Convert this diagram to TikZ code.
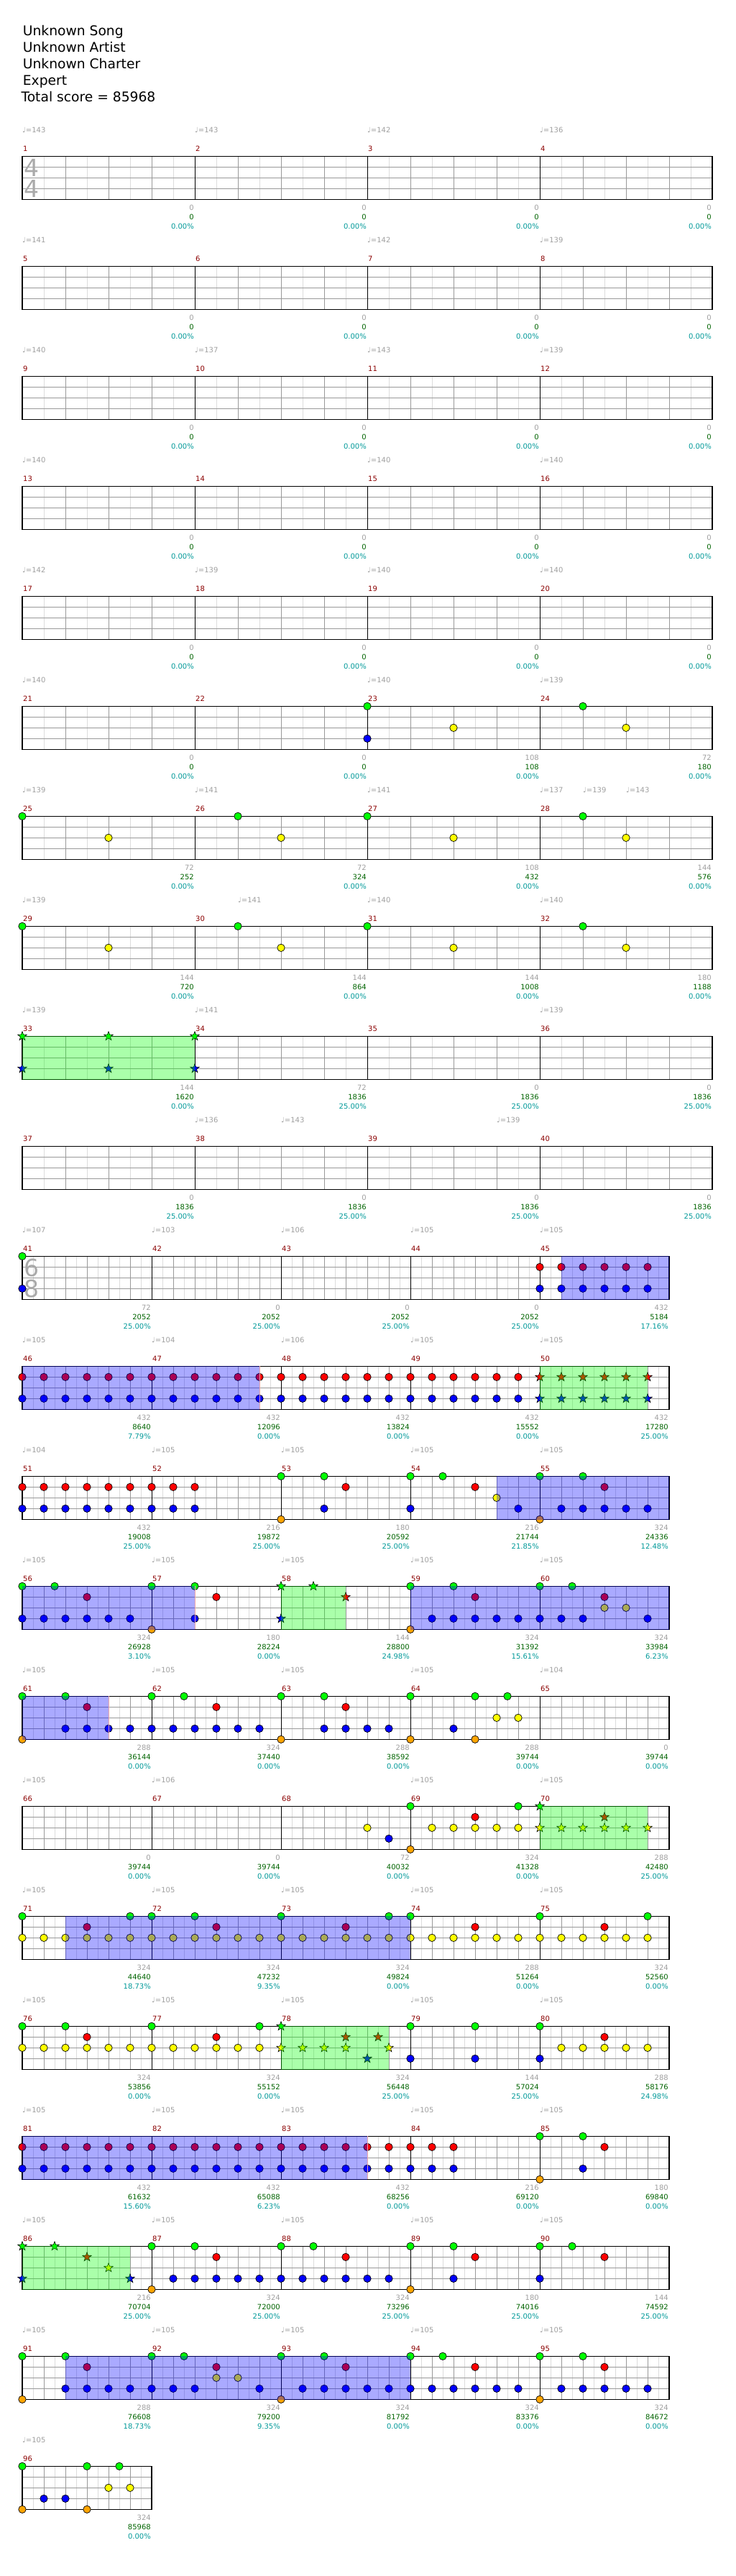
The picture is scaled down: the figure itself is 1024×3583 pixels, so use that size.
\documentclass[tikz,border=0pt]{standalone}
\usepackage{fontspec}
\setmainfont{DejaVu Sans}
\definecolor{ln0}{HTML}{00FF00}
\definecolor{ln1}{HTML}{FF0000}
\definecolor{ln2}{HTML}{FFFF00}
\definecolor{ln3}{HTML}{0000FF}
\definecolor{ln4}{HTML}{FFA500}
\definecolor{lightg}{HTML}{DCDCDC}
\definecolor{midg}{HTML}{999999}
\definecolor{tempog}{HTML}{A0A0A0}
\definecolor{mnumc}{HTML}{8B0000}
\definecolor{cumg}{HTML}{006400}
\definecolor{pctc}{HTML}{009999}
\definecolor{tsg}{HTML}{AAAAAA}
\definecolor{edgec}{HTML}{F0A8A8}
\newcounter{nd}
\tikzset{
  lightl/.style={draw=lightg, line width=1},
  darkl/.style={draw=midg, line width=1},
  barl/.style={draw=black, line width=1},
  borderl/.style={draw=black, line width=1.3},
  note/.style={draw=black, line width=0.7},
  small/.style={font=\fontsize{10}{12}\selectfont, inner sep=0},
  tmp/.style={small, text=tempog, anchor=base west},
  mnum/.style={small, text=mnumc, anchor=base west},
  sca/.style={small, text=tempog, anchor=base east},
  scb/.style={small, text=cumg, anchor=base east},
  scc/.style={small, text=pctc, anchor=base east},
  tsig/.style={font=\fontsize{33}{33}\selectfont, text=tsg, inner sep=0},
  title/.style={font=\fontsize{18.7}{22}\selectfont, anchor=base west, inner sep=0},
}
% 4/4 grid row
\newcommand\GridA[1]{%
  \foreach \k in {0,1,2,3}{%
    \foreach \j in {1,3,5,7}{\draw[lightl] ({31+240*\k+30*\j},{217.3+153*#1}) -- ++(0,60);}
    \foreach \j in {1,2,3}{\draw[darkl] ({31+240*\k+60*\j},{217.3+153*#1}) -- ++(0,60);}
  }
  \foreach \j in {1,2,3}{\draw[darkl] (31,{217.3+153*#1+15*\j}) -- (991,{217.3+153*#1+15*\j});}
  \foreach \k in {1,2,3}{\draw[barl] ({31+240*\k},{217.3+153*#1}) -- ++(0,60);}
  \draw[borderl] (31,{217.3+153*#1}) rectangle (991,{217.3+153*#1+60});
}
% 6/8 grid row: #1 row, #2 number of measures
\newcommand\GridB[2]{%
  \pgfmathtruncatemacro\lastk{#2-1}
  \foreach \k in {0,...,\lastk}{%
    \foreach \j in {15,45,75,105,135,165}{\draw[lightl] ({31+180*\k+\j},{217.3+153*#1}) -- ++(0,60);}
    \foreach \j in {30,60,90,120,150}{\draw[darkl] ({31+180*\k+\j},{217.3+153*#1}) -- ++(0,60);}
  }
  \foreach \j in {1,2,3}{\draw[darkl] (31,{217.3+153*#1+15*\j}) -- ({31+180*#2},{217.3+153*#1+15*\j});}
  \foreach \k in {0,...,\lastk}{\draw[barl] ({31+180*\k},{217.3+153*#1}) -- ++(0,60);}
  \draw[borderl] (31,{217.3+153*#1}) rectangle ({31+180*#2},{217.3+153*#1+60});
}
% notes: row, x offset (px), lane
\newcommand\NtA[3]{\filldraw[note, fill=ln#3] ({31+#2},{217.3+153*#1+15*#3}) circle (5.2);}
\newcommand\NtB[3]{\NtA{#1}{30*#2}{#3}}
\newcommand\StA[3]{\filldraw[note, line width=0.6, fill=ln#3, shift={({31+#2},{217.3+153*#1+15*#3})}]
  (270:6.6) -- (306:2.7) -- (342:6.6) -- (18:2.7) -- (54:6.6) -- (90:2.7) -- (126:6.6) -- (162:2.7) -- (198:6.6) -- (234:2.7) -- cycle;}
\newcommand\StB[3]{\StA{#1}{30*#2}{#3}}
% overlays: row, x1 offset, x2 offset
\newcommand\OvB[3]{\fill[ln3, fill opacity=0.3333] ({31+#2},{217.3+153*#1-0.7}) rectangle ({31+#3},{217.3+153*#1+60.7});}
\newcommand\OvE[2]{\draw[edgec, line width=1] ({31+#2},{217.3+153*#1}) -- ++(0,60);}
\newcommand\OvG[3]{\fill[ln0, fill opacity=0.3333] ({31+#2},{217.3+153*#1-0.7}) rectangle ({31+#3},{217.3+153*#1+60.7});}
% texts
\newcommand\Tp[3]{\stepcounter{nd}\node[tmp] (n\arabic{nd}) at ({31+#2},{217.3+153*#1-32.5}) {♩=#3};}
\newcommand\Mn[3]{\stepcounter{nd}\node[mnum] (n\arabic{nd}) at ({32+#2},{217.3+153*#1-7}) {#3};}
\newcommand\Sc[5]{%
  \stepcounter{nd}\node[sca] (n\arabic{nd}) at ({30+#2},{217.3+153*#1+75}) {#3};
  \stepcounter{nd}\node[scb] (n\arabic{nd}) at ({30+#2},{217.3+153*#1+88}) {#4};
  \stepcounter{nd}\node[scc] (n\arabic{nd}) at ({30+#2},{217.3+153*#1+101}) {#5};}
\begin{document}
\begin{tikzpicture}[x=1pt,y=-1pt]
\fill[white] (0,0) rectangle (1024,3583);
\useasboundingbox (0,0) rectangle (1024,3583);
% title
\node[title] (t1) at (31.7,49.3) {Unknown Song};
\node[title] (t2) at (31.7,72.3) {Unknown Artist};
\node[title] (t3) at (31.7,95.3) {Unknown Charter};
\node[title] (t4) at (31.7,118.3) {Expert};
\node[title] (t5) at (29.3,141.3) {Total score = 85968};
% grids
\foreach \r in {0,...,9}{\GridA{\r}}
\foreach \r in {10,...,20}{\GridB{\r}{5}}
\GridB{21}{1}
% time signatures
\node[tsig] (ts1) at (44,{217.3+16}) {4};
\node[tsig] (ts2) at (44,{217.3+45}) {4};
\node[tsig] (ts3) at (44,{217.3+153*10+16}) {6};
\node[tsig] (ts4) at (44,{217.3+153*10+45}) {8};
% measure numbers
\foreach \r in {0,...,9}{\foreach \k in {0,1,2,3}{\pgfmathtruncatemacro\m{4*\r+\k+1}\Mn{\r}{240*\k}{\m}}}
\foreach \r in {10,...,20}{\foreach \k in {0,...,4}{\pgfmathtruncatemacro\m{41+5*(\r-10)+\k}\Mn{\r}{180*\k}{\m}}}
\Mn{21}{0}{96}
% tempos 4/4
\Tp{0}{0}{143}\Tp{0}{240}{143}\Tp{0}{480}{142}\Tp{0}{720}{136}
\Tp{1}{0}{141}\Tp{1}{480}{142}\Tp{1}{720}{139}
\Tp{2}{0}{140}\Tp{2}{240}{137}\Tp{2}{480}{143}\Tp{2}{720}{139}
\Tp{3}{0}{140}\Tp{3}{480}{140}\Tp{3}{720}{140}
\Tp{4}{0}{142}\Tp{4}{240}{139}\Tp{4}{480}{140}\Tp{4}{720}{140}
\Tp{5}{0}{140}\Tp{5}{480}{140}\Tp{5}{720}{139}
\Tp{6}{0}{139}\Tp{6}{240}{141}\Tp{6}{480}{141}\Tp{6}{720}{137}\Tp{6}{780}{139}\Tp{6}{840}{143}
\Tp{7}{0}{139}\Tp{7}{300}{141}\Tp{7}{480}{140}\Tp{7}{720}{140}
\Tp{8}{0}{139}\Tp{8}{240}{141}\Tp{8}{720}{139}
\Tp{9}{240}{136}\Tp{9}{360}{143}\Tp{9}{660}{139}
% tempos 6/8
\Tp{10}{0}{107}\Tp{10}{180}{103}\Tp{10}{360}{106}\Tp{10}{540}{105}\Tp{10}{720}{105}
\Tp{11}{0}{105}\Tp{11}{180}{104}\Tp{11}{360}{106}\Tp{11}{540}{105}\Tp{11}{720}{105}
\Tp{12}{0}{104}\Tp{12}{180}{105}\Tp{12}{360}{105}\Tp{12}{540}{105}\Tp{12}{720}{105}
\foreach \r in {13,16,17,18,19,20}{\foreach \k in {0,...,4}{\Tp{\r}{180*\k}{105}}}
\Tp{14}{0}{105}\Tp{14}{180}{105}\Tp{14}{360}{105}\Tp{14}{540}{105}\Tp{14}{720}{104}
\Tp{15}{0}{105}\Tp{15}{180}{106}\Tp{15}{540}{105}\Tp{15}{720}{105}
\Tp{21}{0}{105}
% scores 4/4
\foreach \r in {0,...,4}{\foreach \k in {1,2,3,4}{\Sc{\r}{240*\k}{0}{0}{0.00\%}}}
\Sc{5}{240}{0}{0}{0.00\%}\Sc{5}{480}{0}{0}{0.00\%}\Sc{5}{720}{108}{108}{0.00\%}\Sc{5}{960}{72}{180}{0.00\%}
\Sc{6}{240}{72}{252}{0.00\%}\Sc{6}{480}{72}{324}{0.00\%}\Sc{6}{720}{108}{432}{0.00\%}\Sc{6}{960}{144}{576}{0.00\%}
\Sc{7}{240}{144}{720}{0.00\%}\Sc{7}{480}{144}{864}{0.00\%}\Sc{7}{720}{144}{1008}{0.00\%}\Sc{7}{960}{180}{1188}{0.00\%}
\Sc{8}{240}{144}{1620}{0.00\%}\Sc{8}{480}{72}{1836}{25.00\%}\Sc{8}{720}{0}{1836}{25.00\%}\Sc{8}{960}{0}{1836}{25.00\%}
\foreach \k in {1,2,3,4}{\Sc{9}{240*\k}{0}{1836}{25.00\%}}
% scores 6/8
\Sc{10}{180}{72}{2052}{25.00\%}\Sc{10}{360}{0}{2052}{25.00\%}\Sc{10}{540}{0}{2052}{25.00\%}\Sc{10}{720}{0}{2052}{25.00\%}\Sc{10}{900}{432}{5184}{17.16\%}
\Sc{11}{180}{432}{8640}{7.79\%}\Sc{11}{360}{432}{12096}{0.00\%}\Sc{11}{540}{432}{13824}{0.00\%}\Sc{11}{720}{432}{15552}{0.00\%}\Sc{11}{900}{432}{17280}{25.00\%}
\Sc{12}{180}{432}{19008}{25.00\%}\Sc{12}{360}{216}{19872}{25.00\%}\Sc{12}{540}{180}{20592}{25.00\%}\Sc{12}{720}{216}{21744}{21.85\%}\Sc{12}{900}{324}{24336}{12.48\%}
\Sc{13}{180}{324}{26928}{3.10\%}\Sc{13}{360}{180}{28224}{0.00\%}\Sc{13}{540}{144}{28800}{24.98\%}\Sc{13}{720}{324}{31392}{15.61\%}\Sc{13}{900}{324}{33984}{6.23\%}
\Sc{14}{180}{288}{36144}{0.00\%}\Sc{14}{360}{324}{37440}{0.00\%}\Sc{14}{540}{288}{38592}{0.00\%}\Sc{14}{720}{288}{39744}{0.00\%}\Sc{14}{900}{0}{39744}{0.00\%}
\Sc{15}{180}{0}{39744}{0.00\%}\Sc{15}{360}{0}{39744}{0.00\%}\Sc{15}{540}{72}{40032}{0.00\%}\Sc{15}{720}{324}{41328}{0.00\%}\Sc{15}{900}{288}{42480}{25.00\%}
\Sc{16}{180}{324}{44640}{18.73\%}\Sc{16}{360}{324}{47232}{9.35\%}\Sc{16}{540}{324}{49824}{0.00\%}\Sc{16}{720}{288}{51264}{0.00\%}\Sc{16}{900}{324}{52560}{0.00\%}
\Sc{17}{180}{324}{53856}{0.00\%}\Sc{17}{360}{324}{55152}{0.00\%}\Sc{17}{540}{324}{56448}{25.00\%}\Sc{17}{720}{144}{57024}{25.00\%}\Sc{17}{900}{288}{58176}{24.98\%}
\Sc{18}{180}{432}{61632}{15.60\%}\Sc{18}{360}{432}{65088}{6.23\%}\Sc{18}{540}{432}{68256}{0.00\%}\Sc{18}{720}{216}{69120}{0.00\%}\Sc{18}{900}{180}{69840}{0.00\%}
\Sc{19}{180}{216}{70704}{25.00\%}\Sc{19}{360}{324}{72000}{25.00\%}\Sc{19}{540}{324}{73296}{25.00\%}\Sc{19}{720}{180}{74016}{25.00\%}\Sc{19}{900}{144}{74592}{25.00\%}
\Sc{20}{180}{288}{76608}{18.73\%}\Sc{20}{360}{324}{79200}{9.35\%}\Sc{20}{540}{324}{81792}{0.00\%}\Sc{20}{720}{324}{83376}{0.00\%}\Sc{20}{900}{324}{84672}{0.00\%}
\Sc{21}{180}{324}{85968}{0.00\%}
% ---------- notes 4/4 ----------
\NtA{5}{480}{0}\NtA{5}{480}{3}\NtA{5}{600}{2}\NtA{5}{780}{0}\NtA{5}{840}{2}
\foreach \r in {6,7}{\NtA{\r}{0}{0}\NtA{\r}{120}{2}\NtA{\r}{300}{0}\NtA{\r}{360}{2}\NtA{\r}{480}{0}\NtA{\r}{600}{2}\NtA{\r}{780}{0}\NtA{\r}{840}{2}}
\foreach \p in {0,120,240}{\StA{8}{\p}{0}\StA{8}{\p}{3}}
\OvG{8}{0}{240}
% ---------- notes 6/8 ----------
% row 10 (m41-45)
\NtB{10}{0}{0}\NtB{10}{0}{3}
\foreach \e in {24,...,29}{\NtB{10}{\e}{1}\NtB{10}{\e}{3}}
\OvB{10}{750}{900}
% row 11 (m46-50)
\foreach \e in {0,...,23}{\NtB{11}{\e}{1}\NtB{11}{\e}{3}}
\foreach \e in {24,...,29}{\StB{11}{\e}{1}\StB{11}{\e}{3}}
\OvB{11}{0}{330}\OvE{11}{330.5}\OvG{11}{720}{870}
% row 12 (m51-55)
\foreach \e in {0,...,8}{\NtB{12}{\e}{1}\NtB{12}{\e}{3}}
\NtB{12}{12}{0}\NtB{12}{12}{4}\NtB{12}{14}{0}\NtB{12}{14}{3}\NtB{12}{15}{1}
\NtB{12}{18}{0}\NtB{12}{18}{3}\NtB{12}{19.5}{0}\NtB{12}{21}{1}\NtB{12}{22}{2}\NtB{12}{23}{3}
\NtB{12}{24}{0}\NtB{12}{24}{4}\NtB{12}{26}{0}\NtB{12}{27}{1}
\foreach \e in {25,...,29}{\NtB{12}{\e}{3}}
\OvB{12}{660}{900}
% row 13 (m56-60)
\NtB{13}{0}{0}\NtB{13}{1.5}{0}\NtB{13}{3}{1}
\foreach \e in {0,...,5}{\NtB{13}{\e}{3}}
\NtB{13}{6}{0}\NtB{13}{6}{4}\NtB{13}{8}{0}\NtB{13}{8}{3}\NtB{13}{9}{1}
\StB{13}{12}{0}\StB{13}{12}{3}\StB{13}{13.5}{0}\StB{13}{15}{1}
\NtB{13}{18}{0}\NtB{13}{18}{4}\NtB{13}{20}{0}\NtB{13}{21}{1}
\foreach \e in {19,...,26}{\NtB{13}{\e}{3}}
\NtB{13}{29}{3}
\NtB{13}{24}{0}\NtB{13}{25.5}{0}\NtB{13}{27}{1}\NtB{13}{27}{2}\NtB{13}{28}{2}
\OvB{13}{0}{240}\OvE{13}{240.5}\OvG{13}{360}{450}\OvB{13}{540}{900}
% row 14 (m61-65)
\NtB{14}{0}{0}\NtB{14}{0}{4}\NtB{14}{2}{0}\NtB{14}{3}{1}
\foreach \e in {2,...,11}{\NtB{14}{\e}{3}}
\NtB{14}{6}{0}\NtB{14}{7.5}{0}\NtB{14}{9}{1}
\NtB{14}{12}{0}\NtB{14}{12}{4}\NtB{14}{14}{0}\NtB{14}{15}{1}
\foreach \e in {14,...,17}{\NtB{14}{\e}{3}}
\NtB{14}{18}{0}\NtB{14}{18}{4}\NtB{14}{20}{3}\NtB{14}{21}{0}\NtB{14}{21}{4}\NtB{14}{22.5}{0}\NtB{14}{22}{2}\NtB{14}{23}{2}
\OvB{14}{0}{120}\OvE{14}{120.5}
% row 15 (m66-70)
\NtB{15}{16}{2}\NtB{15}{17}{3}
\NtB{15}{18}{0}\NtB{15}{18}{4}
\foreach \e in {19,...,23}{\NtB{15}{\e}{2}}
\NtB{15}{21}{1}\NtB{15}{23}{0}
\StB{15}{24}{0}\StB{15}{27}{1}
\foreach \e in {24,...,29}{\StB{15}{\e}{2}}
\OvG{15}{720}{870}
% row 16 (m71-75)
\foreach \e in {0,...,29}{\NtB{16}{\e}{2}}
\foreach \e in {0,5,6,8,12,17,18,24,29}{\NtB{16}{\e}{0}}
\foreach \e in {3,9,15,21,27}{\NtB{16}{\e}{1}}
\OvB{16}{60}{540}
% row 17 (m76-80)
\foreach \e in {0,...,11}{\NtB{17}{\e}{2}}
\foreach \e in {25,...,29}{\NtB{17}{\e}{2}}
\foreach \e in {12,13,14,15,17}{\StB{17}{\e}{2}}
\foreach \e in {0,2,6,11,18,21,24}{\NtB{17}{\e}{0}}
\StB{17}{12}{0}
\foreach \e in {3,9,27}{\NtB{17}{\e}{1}}
\StB{17}{15}{1}\StB{17}{16.5}{1}
\StB{17}{16}{3}
\foreach \e in {18,21,24}{\NtB{17}{\e}{3}}
\OvG{17}{360}{510}
% row 18 (m81-85)
\foreach \e in {0,...,20}{\NtB{18}{\e}{1}\NtB{18}{\e}{3}}
\NtB{18}{24}{0}\NtB{18}{24}{4}\NtB{18}{26}{0}\NtB{18}{26}{3}\NtB{18}{27}{1}
\OvB{18}{0}{480}\OvE{18}{480.5}
% row 19 (m86-90)
\StB{19}{0}{0}\StB{19}{0}{3}\StB{19}{1.5}{0}\StB{19}{3}{1}\StB{19}{4}{2}\StB{19}{5}{3}
\NtB{19}{6}{0}\NtB{19}{6}{4}\NtB{19}{8}{0}\NtB{19}{9}{1}
\foreach \e in {7,...,17}{\NtB{19}{\e}{3}}
\NtB{19}{12}{0}\NtB{19}{13.5}{0}\NtB{19}{15}{1}
\NtB{19}{18}{0}\NtB{19}{18}{4}\NtB{19}{20}{0}\NtB{19}{20}{3}\NtB{19}{21}{1}
\NtB{19}{24}{0}\NtB{19}{24}{3}\NtB{19}{25.5}{0}\NtB{19}{27}{1}
\OvG{19}{0}{150}
% row 20 (m91-95)
\foreach \e in {0,2,6,7.5,12,14,18,19.5,24,26}{\NtB{20}{\e}{0}}
\foreach \e in {0,12,24}{\NtB{20}{\e}{4}}
\foreach \e in {3,9,15,21,27}{\NtB{20}{\e}{1}}
\NtB{20}{9}{2}\NtB{20}{10}{2}
\foreach \e in {2,3,4,5,6,7,8,11,13,14,15,16,17,18,19,20,21,22,23,25,26,27,28,29}{\NtB{20}{\e}{3}}
\OvB{20}{60}{540}
% row 21 (m96)
\NtB{21}{0}{0}\NtB{21}{0}{4}\NtB{21}{1}{3}\NtB{21}{2}{3}\NtB{21}{3}{0}\NtB{21}{3}{4}\NtB{21}{4}{2}\NtB{21}{4.5}{0}\NtB{21}{5}{2}
\end{tikzpicture}
\end{document}
